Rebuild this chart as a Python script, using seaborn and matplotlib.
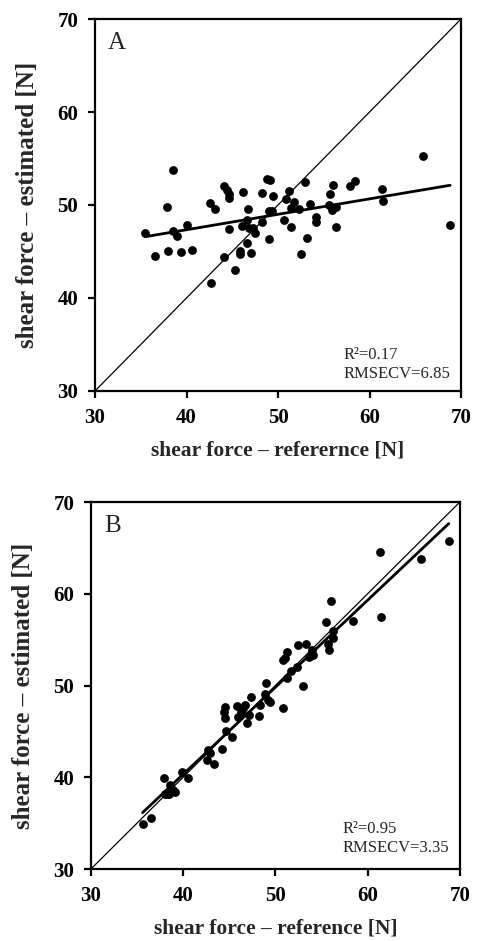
import numpy as np
import pandas as pd
import matplotlib
matplotlib.use("Agg")
import matplotlib.pyplot as plt
import seaborn as sns

# ==================== data ====================

# panel A: reference vs estimated shear force
ref_a = [35.5, 36.6, 37.9, 38.5, 38.0, 38.5, 39.0, 39.4, 40.0, 40.6,
         42.6, 43.1, 42.7, 44.1, 44.4, 44.6, 44.6, 44.6, 44.1, 45.3,
         46.2, 46.7, 46.6, 46.1, 46.8, 46.6, 45.8, 45.8, 47.0, 47.3,
         47.5, 48.2, 48.3, 48.8, 49.1, 49.4, 49.0, 49.3, 49.0, 50.9,
         51.2, 51.7, 51.4, 50.7, 51.4, 52.3, 53.0, 53.5, 54.2, 54.2,
         53.2, 52.5, 55.7, 56.0, 55.6, 55.9, 56.3, 56.3, 57.9, 58.4,
         61.4, 61.5, 65.8, 68.8]
est_a = [47.0, 44.5, 49.8, 53.8, 45.1, 47.2, 46.7, 44.9, 47.8, 45.2,
         50.2, 49.6, 41.6, 52.0, 51.6, 51.2, 50.8, 47.4, 44.4, 43.0,
         51.4, 49.6, 48.4, 47.7, 47.5, 45.9, 45.1, 44.7, 44.8, 47.5,
         47.0, 48.2, 51.3, 52.8, 52.7, 51.0, 49.4, 49.4, 46.3, 50.6,
         51.5, 50.3, 49.7, 48.4, 47.6, 49.6, 52.5, 50.1, 48.7, 48.2,
         46.4, 44.7, 51.2, 52.1, 50.0, 49.5, 49.8, 47.6, 52.0, 52.6,
         51.7, 50.4, 55.3, 47.8]

# panel B
ref_b = [35.6, 36.5, 37.9, 38.0, 38.2, 38.5, 38.6, 38.9, 39.1, 39.9,
         40.5, 42.6, 42.7, 42.9, 43.3, 44.2, 44.6, 45.3, 44.5, 44.4,
         44.5, 45.8, 46.7, 46.5, 46.3, 46.0, 47.1, 46.9, 48.2, 47.4,
         48.3, 48.9, 49.2, 49.4, 49.0, 50.8, 50.8, 51.0, 51.3, 51.3,
         51.7, 52.3, 52.5, 53.0, 53.3, 53.6, 54.0, 54.1, 55.5, 55.7,
         55.8, 56.0, 56.2, 56.2, 58.4, 61.3, 61.4, 65.8, 68.8]
est_b = [34.9, 35.6, 39.9, 38.2, 38.2, 38.2, 39.2, 38.6, 38.4, 40.6,
         39.9, 41.9, 43.0, 42.6, 41.5, 43.1, 45.0, 44.4, 47.7, 47.1,
         46.5, 47.8, 47.9, 47.5, 47.1, 46.6, 46.8, 45.9, 46.7, 48.7,
         47.9, 49.1, 48.4, 48.2, 50.3, 47.5, 52.8, 53.0, 53.6, 50.8,
         51.6, 52.0, 54.4, 49.9, 54.5, 53.1, 53.9, 53.3, 56.9, 54.5,
         53.9, 59.2, 55.9, 55.2, 57.0, 64.6, 57.5, 63.8, 65.8]

# trend lines as printed in the figure (slope, intercept)
fit_a = (0.166, 40.7)
fit_b = (0.949, 2.36)

panel_labels = ["A", "B"]
stats_text = ["R\u00b2=0.17\nRMSECV=6.85", "R\u00b2=0.95\nRMSECV=3.35"]
xlabels = ["shear force \u2013 referernce [N]", "shear force \u2013 reference [N]"]
ylabel = "shear force \u2013 estimated [N]"
ticks = [30, 40, 50, 60, 70]

# ==================== style ====================

sns.set_style("ticks")
plt.rcParams["font.family"] = ["Liberation Serif", "DejaVu Serif"]
plt.rcParams["axes.linewidth"] = 1.6
plt.rcParams["xtick.major.width"] = 1.6
plt.rcParams["ytick.major.width"] = 1.6
plt.rcParams["xtick.major.size"] = 5
plt.rcParams["ytick.major.size"] = 5

fig = plt.figure(figsize=(4.81, 9.41), dpi=100)
ax_a = fig.add_axes([0.1975, 0.5845, 0.761, 0.3953])
ax_b = fig.add_axes([0.189, 0.0765, 0.767, 0.390])

panels = [(ax_a, ref_a, est_a, fit_a, (0.68, 0.025)),
          (ax_b, ref_b, est_b, fit_b, (0.683, 0.035))]

for i, (ax, xs, ys, fit, tpos) in enumerate(panels):
    df = pd.DataFrame({"ref": xs, "est": ys})
    ax.axline((30, 30), slope=1, color="black", lw=0.9, zorder=1)
    sns.scatterplot(data=df, x="ref", y="est", ax=ax, s=40, color="black",
                    linewidth=0, zorder=3)
    xr = np.array([df["ref"].min(), df["ref"].max()])
    sns.lineplot(x=xr, y=fit[0] * xr + fit[1], ax=ax, color="black", lw=2,
                 zorder=2)
    ax.set_xlim(30, 70)
    ax.set_ylim(30, 70)
    ax.set_xticks(ticks)
    ax.set_yticks(ticks)
    for sp in ax.spines.values():
        sp.set_visible(True)
        sp.set_color("black")
    ax.tick_params(labelsize=15, colors="black", direction="out", pad=7)
    for lab in ax.get_xticklabels() + ax.get_yticklabels():
        lab.set_fontweight("bold")
    ax.set_xlabel(xlabels[i], fontsize=15.5, fontweight="bold", labelpad=9)
    ax.set_ylabel(ylabel, fontsize=18, fontweight="bold", labelpad=13)
    ax.text(0.035, 0.965, panel_labels[i], transform=ax.transAxes,
            fontsize=18, ha="left", va="top")
    ax.text(tpos[0], tpos[1], stats_text[i], transform=ax.transAxes,
            fontsize=12, ha="left", va="bottom", linespacing=1.25)

fig.savefig("out.png", dpi=100)
